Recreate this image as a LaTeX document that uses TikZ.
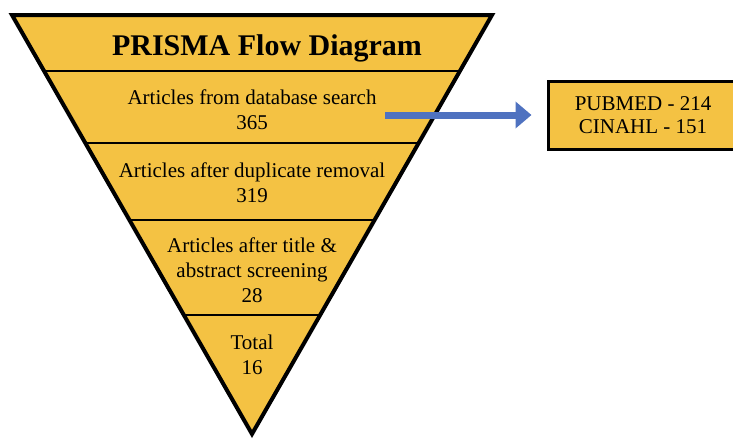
\documentclass[tikz,border=0pt]{standalone}
\usepackage{fontspec}
\setmainfont{Liberation Serif}
\usetikzlibrary{positioning,arrows.meta,calc}
\definecolor{funnelgold}{HTML}{F4C243}
\definecolor{arrowblue}{HTML}{4F72C0}

\begin{document}
\begin{tikzpicture}[x=1pt, y=-1pt,
  lbl/.style={align=center, inner sep=0pt, font=\fontsize{21}{25}\selectfont},
  srcbox/.style={draw, line width=3pt, fill=funnelgold, align=center,
                 minimum width=190pt, minimum height=68pt, inner sep=0pt,
                 font=\fontsize{21}{23}\selectfont},
  arr/.style={-{Triangle[length=16pt, width=26pt]}, line width=7pt, arrowblue}]
\clip (0,0) rectangle (733,439);
% funnel
\coordinate (tl) at (12,15);
\coordinate (tr) at (492,15);
\coordinate (ap) at (252,434);
\fill[funnelgold] (tl) -- (tr) -- (ap) -- cycle;
\begin{scope}
  \clip (tl) -- (tr) -- (ap) -- cycle;
  \foreach \y in {71,143,220,315}
    \draw[line width=2.5pt] (0,\y) -- (500,\y);
\end{scope}
\draw[line width=4pt] (tl) -- (tr) -- (ap) -- cycle;
% stages
\node[lbl, font=\bfseries\fontsize{30}{34}\selectfont] (title) at (267,48) {PRISMA Flow Diagram};
\node[lbl] (search) at (252,110) {Articles from database search\\365};
\node[lbl] (dedup) at (252,183) {Articles after duplicate removal\\319};
\node[lbl] (screen) at (252,270) {Articles after title \&\\abstract screening\\28};
\node[lbl] (total) at (252,355) {Total\\16};
% sources
\node[srcbox] (dbs) at (643,115) {PUBMED - 214\\CINAHL - 151};
\coordinate (from) at (385,115);
\draw[arr, shorten >=15pt] (from) -- (dbs);
\end{tikzpicture}
\end{document}
